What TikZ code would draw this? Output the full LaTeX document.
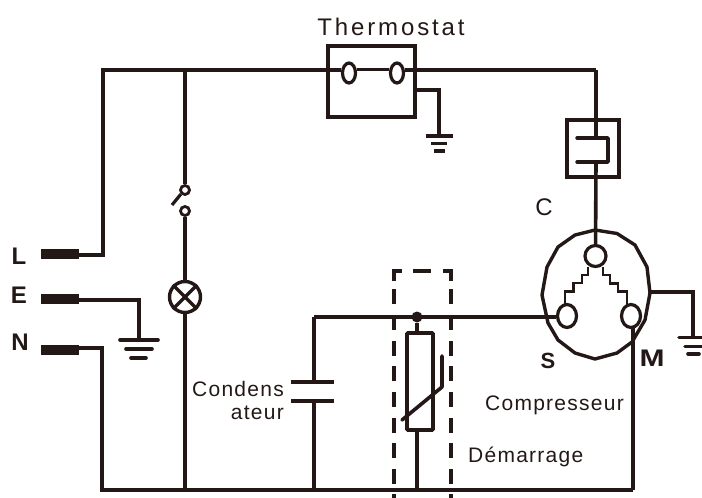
\documentclass[tikz,border=0pt]{standalone}
\usepackage{fontspec}
\usepackage{graphicx}
\setmainfont{Liberation Sans}
\newfontfamily\spaced[LetterSpace=12]{Liberation Sans}
\newfontfamily\spacedsmall[LetterSpace=6]{Liberation Sans}
\definecolor{ink}{HTML}{231815}
\tikzset{
  wire/.style={draw=ink,line width=4.1pt,line join=miter},
  thin wire/.style={draw=ink,line width=2.8pt,line join=round},
  plug/.style={fill=ink,draw=none,minimum width=38pt,minimum height=10pt,inner sep=0pt},
  term/.style={draw=ink,fill=white,line width=3.2pt,ellipse,inner sep=0pt},
  bar/.style={draw=ink,line cap=round,line width=3.6pt},
  dashbox/.style={draw=ink,line width=4.4pt},
  lab/.style={text=ink,inner sep=0pt,font=\spacedsmall\fontsize{21}{23}\selectfont},
  big/.style={text=ink,inner sep=0pt,font=\fontsize{24}{26}\bfseries\selectfont},
}
\usetikzlibrary{shapes.geometric}
\begin{document}
\begin{tikzpicture}[x=1pt,y=-1pt]
\useasboundingbox (0,0) rectangle (702,498);
% plugs
\node[plug] (L) at (60,254) {};
\node[plug] (E) at (60,299) {};
\node[plug] (N) at (60,350) {};
% thermostat
\node[draw=ink,line width=3.6pt,minimum width=87pt,minimum height=71pt,inner sep=0pt] (tbox) at (371.5,81.5) {};
\node[term,minimum width=13pt,minimum height=20pt] (o1) at (349,73) {};
\node[term,minimum width=13pt,minimum height=20pt] (o2) at (397,73) {};
% coordinates
\coordinate (tl) at (103,70);
\coordinate (tr) at (596,70);
\coordinate (bl) at (102,490);
\coordinate (br) at (633,490);
\coordinate (gE) at (139,340);
\coordinate (lamptop) at (185,70);
\coordinate (lampbot) at (185,490);
% main wires
\draw[wire] (L.east|-0,255) -| (tl) -- (o1.west|-0,70);
\draw[wire] (o2.east|-0,70) -- (tr);
\draw[wire] (N.east|-0,348) -| (bl) -- (br);
\draw[wire] (E.east|-0,300) -| (gE);
\draw[draw=ink,line width=2.4pt] (o1.east|-0,69.5) -- (o2.west|-0,69.5);
% earth E
\draw[bar] (120,340) -- (158,340);
\draw[bar] (126,349) -- (152,349);
\draw[bar] (131,358) -- (146,358);
% switch and lamp
\node[circle,draw=ink,fill=white,line width=2.8pt,minimum size=9pt,inner sep=0pt] (swa) at (185,190) {};
\node[circle,draw=ink,fill=white,line width=2.8pt,minimum size=9pt,inner sep=0pt] (swb) at (185,211) {};
\node[circle,draw=ink,line width=3.4pt,minimum size=31pt,inner sep=0pt] (lamp) at (185,297) {};
\draw[wire,line width=3.2pt] (lamp.45) -- (lamp.225);
\draw[wire,line width=3.2pt] (lamp.135) -- (lamp.315);
\draw[wire,line width=3.5pt] (lamptop) -- (swa);
\draw[wire,line width=3.2pt] (swa.south west) -- (172,205);
\draw[wire,line width=3.5pt] (swb) -- (lamp);
\draw[wire,line width=3.5pt] (lamp) -- (lampbot);
% thermostat earth
\coordinate (gT) at (439,136);
\draw[wire,line width=3.2pt] (tbox.east|-0,90) -| (gT);
\draw[bar,line cap=butt] (426,136) -- (453,136);
\draw[bar,line cap=butt] (431,143.5) -- (447,143.5);
\draw[bar,line cap=butt] (434,151) -- (445,151);
% overload box
\node[draw=ink,line width=3.6pt,minimum width=52pt,minimum height=57pt,inner sep=0pt] (ovl) at (593,148.5) {};
\draw[thin wire,line width=3.4pt,line cap=round] (577,138) -- (608,138) -- (608,162) -- (577,162);
\draw[wire] (tr) -- (596,138);
\coordinate (ovlb) at (596,162);
% compressor
\draw[draw=ink,line width=3.4pt,line join=round] (595,230) -- (617,233.5) -- (635,245) -- (647,267) -- (650,293) -- (645,320) -- (632,342) -- (617,353) -- (595,359) -- (575,353) -- (558,340) -- (548,323) -- (542,295) -- (547,267) -- (558,247) -- (575,235) -- cycle;
\node[circle,draw=ink,line width=3.2pt,minimum size=21pt,inner sep=0pt] (top) at (595.5,256) {};
\draw[wire,line width=3.6pt] (ovlb) -- (top);
\draw[thin wire,line width=2.6pt,line join=miter] (588,266.5) |- (582,275) |- (573.5,283) |- (565,291.5) -- (565,307);
\draw[thin wire,line width=2.6pt,line join=miter] (603,266.5) |- (610,275) |- (618,283.5) |- (627,291.5) -- (627,307);
\node[term,minimum width=19pt,minimum height=23pt,fill=white] (S) at (567,316) {};
\node[term,minimum width=19pt,minimum height=23pt,fill=white] (M) at (631,316) {};
\coordinate (capt) at (314,317);
\draw[wire] (capt) -- (S.west|-0,317);
\draw[wire] (633,327) -- (br);
% earth compressor
\coordinate (gC) at (693,337);
\draw[wire,line width=3.4pt] (650,292) -| (gC);
\draw[bar] (679,337.5) -- (702,337.5);
\draw[bar] (685,346.5) -- (702,346.5);
\draw[bar] (688,354) -- (699,354);
% capacitor
\coordinate (capa) at (314,382);
\coordinate (capb) at (314,401);
\coordinate (capbot) at (314,490);
\draw[wire,line width=3.6pt] (capt) -- (capa);
\draw[wire,line width=3.6pt] (capb) -- (capbot);
\draw[wire,line cap=butt] (291,382) -- (334,382);
\draw[wire,line cap=butt] (291,401) -- (334,401);
% PTC
\node[draw=ink,line width=3.6pt,minimum width=26pt,minimum height=97pt,inner sep=0pt,rounded corners=1pt] (ptc) at (420,381.5) {};
\node[circle,fill=ink,minimum size=11pt,inner sep=0pt] (dot) at (417,317) {};
\coordinate (ptcbot) at (417,490);
\draw[wire,line width=3.6pt] (dot) -- (417,333);
\draw[wire,line width=3.6pt] (417,430) -- (ptcbot);
\draw[draw=ink,line width=3.6pt,line cap=round,line join=round] (402,420) -- (442,387) -- (442,356);
% dashed box
\draw[dashbox] (394,281) -- (394,271) -- (402,271);
\draw[dashbox] (413,271) -- (431,271);
\draw[dashbox] (443,271) -- (451,271) -- (451,281);
\foreach \y in {289,315,341,366,392,418,443,469,494}{
  \draw[dashbox] (394,\y) -- (394,\y+14.5);
  \draw[dashbox] (451,\y) -- (451,\y+14.5);
}
% labels
\node[text=ink,inner sep=0pt,font=\spaced\fontsize{24}{26}\selectfont] (tT) at (391,27) {Thermostat};
\node[text=ink,inner sep=0pt,font=\fontsize{24}{26}\selectfont] (tC) at (544,207) {C};
\node[big] (tL) at (19,256) {L};
\node[big] (tE) at (19,295) {E};
\node[big] (tN) at (20,342) {N};
\node[big,font=\fontsize{22}{24}\bfseries\selectfont] (tS) at (548,361) {S};
\node[big] (tM) at (652,358) {\scalebox{1.25}[1]{M}};
\node[lab,anchor=east] (t1) at (284,389) {Condens};
\node[lab,anchor=east] (t2) at (284,413) {ateur};
\node[lab,anchor=west] (t3) at (485,405) {Compresseur};
\node[lab,anchor=west] (t4) at (468,457) {Démarrage};
\end{tikzpicture}
\end{document}
